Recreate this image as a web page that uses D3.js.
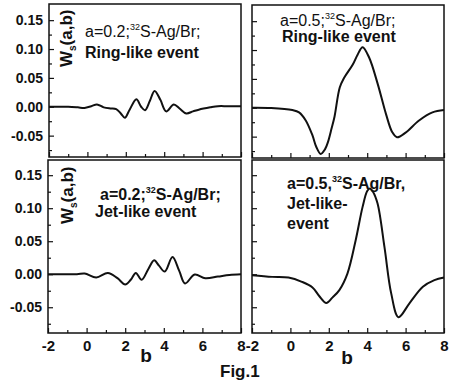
<!DOCTYPE html>
<html>
<head>
<meta charset="utf-8">
<script src="https://cdn.jsdelivr.net/npm/d3@7"></script>
<style>
  body { margin: 0; background: #fff; }
  svg text { font-family: "Liberation Sans", Arial, sans-serif; fill: #111; }
</style>
</head>
<body>
<svg id="chart" width="449" height="383"></svg>
<script>
// a=0.2, ring-like event
const ringA02B = [-2, -1, -0.5, -0.15, 0.2, 0.5, 0.85, 1.2, 1.5, 1.75, 1.95, 2.2, 2.55, 2.8, 3.0, 3.25, 3.5, 3.8, 4.1, 4.5, 4.8, 5.15, 5.5, 5.8, 6.4, 6.8, 7.3, 8];
const ringA02W = [0, 0, -0.001, -0.002, 0.001, 0.004, -0.001, -0.003, -0.004, -0.012, -0.019, -0.005, 0.013, 0.0, -0.006, 0.010, 0.0275, 0.012, -0.008, 0.004, -0.003, -0.0115, -0.008, -0.005, -0.001, 0.001, 0.001, 0.001];

// a=0.5, ring-like event
const ringA05B = [-2, -1, 0.1, 0.45, 0.8, 1.15, 1.35, 1.58, 1.8, 1.95, 2.15, 2.3, 2.57, 2.8, 3.25, 3.5, 3.76, 4.1, 4.55, 4.98, 5.3, 5.55, 6.0, 6.7, 7.4, 8];
const ringA05W = [0, -0.0005, -0.004, -0.008, -0.022, -0.048, -0.068, -0.080, -0.072, -0.060, -0.035, -0.015, 0.035, 0.052, 0.075, 0.092, 0.105, 0.087, 0.041, -0.011, -0.042, -0.051, -0.043, -0.022, -0.008, -0.004];

// a=0.2, jet-like event
const jetA02B = [-2, -0.5, -0.1, 0.5, 1.1, 1.6, 2.0, 2.3, 2.55, 2.85, 3.2, 3.5, 3.75, 4.05, 4.45, 4.8, 5.1, 5.6, 6.15, 6.8, 7.4, 8];
const jetA02W = [0, 0, 0.001, -0.005, 0.002, -0.006, -0.0155, -0.008, 0.002, -0.0085, 0.008, 0.021, 0.013, 0.004, 0.026, 0.005, -0.014, -0.0005, -0.006, -0.0035, -0.001, 0];

// a=0.5, jet-like event
const jetA05B = [-2, -0.95, -0.1, 0.6, 1.15, 1.5, 1.87, 2.2, 2.55, 2.97, 3.4, 3.76, 4.0, 4.14, 4.3, 4.54, 4.9, 5.25, 5.63, 6.2, 6.9, 7.5, 8];
const jetA05W = [-0.0015, -0.004, -0.005, -0.0115, -0.020, -0.033, -0.0435, -0.035, -0.024, 0.001, 0.0515, 0.102, 0.126, 0.130, 0.125, 0.107, 0.041, -0.029, -0.065, -0.044, -0.019, -0.009, -0.005];

const xMajor = [-2, 0, 2, 4, 6, 8];
const xMinor = [-1, 1, 3, 5, 7];
const yMajor = [-0.05, 0, 0.05, 0.10, 0.15];
const yMinor = [-0.075, -0.025, 0.025, 0.075, 0.125];

const svg = d3.select("#chart");
const fmtY = d => d3.format(".2f")(d).replace("−", "-");
const fmtX = d => String(d);

function drawPanel(p) {
  const x = d3.scaleLinear().domain([-2, 8]).range([p.x0, p.x1]);
  const y = d3.scaleLinear().domain(p.yDomain).range([p.y1, p.y0]);
  const g = svg.append("g");

  // minor ticks
  g.append("g").attr("transform", `translate(${p.x0},0)`)
    .call(d3.axisLeft(y).tickValues(yMinor).tickSize(-3).tickFormat(""))
    .call(a => a.select(".domain").remove());
  g.append("g").attr("transform", `translate(0,${p.y1})`)
    .call(d3.axisBottom(x).tickValues(xMinor).tickSize(-3).tickFormat(""))
    .call(a => a.select(".domain").remove());

  // major ticks with labels
  const ya = g.append("g").attr("transform", `translate(${p.x0},0)`)
    .call(d3.axisLeft(y).tickValues(yMajor).tickSize(-5).tickPadding(6)
      .tickFormat(p.yLabels ? fmtY : ""));
  ya.select(".domain").remove();
  ya.selectAll("text").attr("font-size", 14).attr("font-weight", "bold");

  const xa = g.append("g").attr("transform", `translate(0,${p.y1})`)
    .call(d3.axisBottom(x).tickValues(xMajor).tickSize(-5).tickPadding(7)
      .tickFormat(p.xLabels ? fmtX : ""));
  xa.select(".domain").remove();
  xa.selectAll("text").attr("font-size", 15).attr("font-weight", "bold");
  g.selectAll(".tick line").attr("stroke", "#111").attr("stroke-width", 1.2);

  // frame
  g.append("rect")
    .attr("x", p.x0).attr("y", p.y0)
    .attr("width", p.x1 - p.x0).attr("height", p.y1 - p.y0)
    .attr("fill", "none").attr("stroke", "#111").attr("stroke-width", 1.5);

  // curve
  const pts = p.b.map((b, i) => [b, p.w[i]]);
  g.append("path").datum(pts)
    .attr("fill", "none")
    .attr("stroke", "#111")
    .attr("stroke-width", 2)
    .attr("d", d3.line().x(d => x(d[0])).y(d => y(d[1])).curve(d3.curveCatmullRom));

  // annotation
  p.notes.forEach(n => {
    const t = g.append("text").attr("x", n.x).attr("y", n.y)
      .attr("font-size", n.size || 16).attr("font-weight", n.weight || "bold");
    if (n.sup) {
      t.append("tspan").text(n.pre);
      t.append("tspan").attr("font-size", 9).attr("dy", -7).text(n.sup);
      t.append("tspan").attr("dy", 7).text(n.post);
    } else {
      t.text(n.text);
    }
  });

  if (p.yTitle) {
    const t = g.append("text")
      .attr("transform", `translate(${p.yTitle[0]},${p.yTitle[1]}) rotate(-90)`)
      .attr("font-size", 17).attr("font-weight", "bold");
    t.append("tspan").text("W");
    t.append("tspan").attr("font-size", 10).attr("dy", 4).text("s");
    t.append("tspan").attr("dy", -4).text("(a,b)");
  }
  if (p.xTitle) {
    g.append("text").attr("x", p.xTitle[0]).attr("y", p.xTitle[1])
      .attr("text-anchor", "middle").attr("font-size", 19).attr("font-weight", "bold")
      .text("b");
  }
}

const topDomain = [-0.087, 0.178];
const botDomain = [-0.089, 0.173];

drawPanel({
  x0: 49, x1: 241, y0: 4, y1: 157, yDomain: topDomain,
  b: ringA02B, w: ringA02W, yLabels: true, xLabels: false, yTitle: [72, 67],
  notes: [
    { x: 85, y: 37, pre: "a=0.2;", sup: "32", post: "S-Ag/Br;", weight: "normal", size: 16 },
    { x: 85, y: 58, text: "Ring-like event", size: 16 }
  ]
});
drawPanel({
  x0: 252, x1: 444, y0: 5, y1: 158, yDomain: topDomain,
  b: ringA05B, w: ringA05W, yLabels: false, xLabels: false,
  notes: [
    { x: 280, y: 26, pre: "a=0.5;", sup: "32", post: "S-Ag/Br;", weight: "normal", size: 16 },
    { x: 282, y: 42, text: "Ring-like event", size: 16 }
  ]
});
drawPanel({
  x0: 48, x1: 241, y0: 160, y1: 333, yDomain: botDomain,
  b: jetA02B, w: jetA02W, yLabels: true, xLabels: true, yTitle: [73, 224], xTitle: [146, 362],
  notes: [
    { x: 100, y: 200, pre: "a=0.2;", sup: "32", post: "S-Ag/Br;" },
    { x: 95, y: 217, text: "Jet-like event" }
  ]
});
drawPanel({
  x0: 252, x1: 444, y0: 160, y1: 333, yDomain: botDomain,
  b: jetA05B, w: jetA05W, yLabels: false, xLabels: true, xTitle: [347, 364],
  notes: [
    { x: 287, y: 189, pre: "a=0.5,", sup: "32", post: "S-Ag/Br," },
    { x: 287, y: 209, text: "Jet-like-" },
    { x: 287, y: 229, text: "event" }
  ]
});

svg.append("text").attr("x", 220).attr("y", 377)
  .attr("font-size", 17).attr("font-weight", "bold").text("Fig.1");
</script>
</body>
</html>
